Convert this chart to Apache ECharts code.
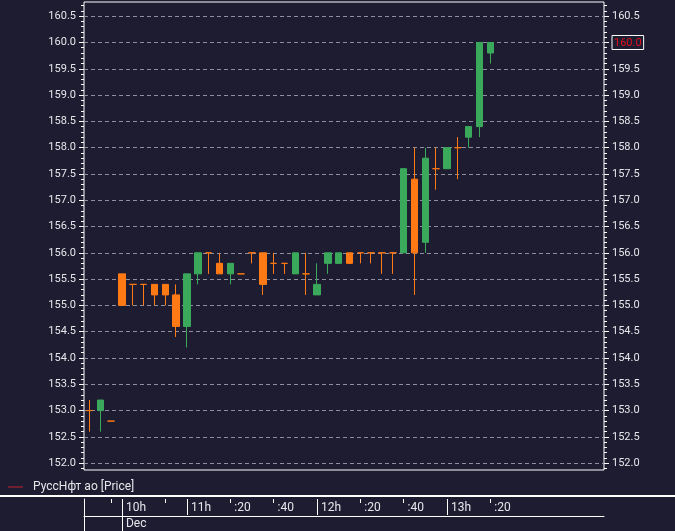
<!DOCTYPE html>
<html><head><meta charset="utf-8">
<script src="https://cdn.jsdelivr.net/npm/echarts@6/dist/echarts.min.js"></script>
<style>html,body{margin:0;padding:0;background:#1e1c31;}#c{width:675px;height:531px;}</style>
</head><body><div id="c"></div>
<script>
const seriesName = 'РуссНфт ао [Price]';
const categories = ['09:30','09:35','09:40','10:00','10:10','10:20','10:30','10:40','10:50',
  '11:00','11:05','11:10','11:15','11:20','11:25','11:30','11:35','11:40','11:45','11:50','11:55',
  '12:00','12:05','12:10','12:15','12:20','12:25','12:30','12:35','12:40','12:45','12:50','12:55',
  '13:00','13:05','13:10','13:15','13:20','13:25','13:30','13:35','13:40','13:45','13:50','13:55',
  '14:00','14:05','14:10'];
const openV  = [153.0,153.0,152.8,155.6,155.4,155.4,155.4,155.4,155.2,154.6,155.6,156.0,155.8,155.6,155.6,156.0,156.0,155.8,155.8,155.6,155.6,155.2,155.8,155.8,156.0,156.0,156.0,156.0,156.0,156.0,157.4,156.2,157.6,157.6,158.0,158.2,158.4,159.8];
const closeV = [153.0,153.2,152.8,155.0,155.4,155.4,155.2,155.2,154.6,155.6,156.0,156.0,155.6,155.8,155.6,156.0,155.4,155.8,155.8,156.0,155.6,155.4,156.0,156.0,155.8,156.0,156.0,156.0,156.0,157.6,156.0,157.8,157.6,158.0,158.0,158.4,160.0,160.0];
const lowV   = [152.6,152.6,152.8,155.0,155.0,155.0,155.0,155.0,154.4,154.2,155.4,155.6,155.6,155.4,155.6,155.8,155.2,155.6,155.6,155.6,155.2,155.2,155.6,155.8,155.8,155.8,155.8,155.6,155.6,156.0,155.2,156.0,157.2,157.6,157.4,158.0,158.2,159.6];
const highV  = [153.2,153.2,152.8,155.6,155.4,155.4,155.4,155.4,155.4,155.6,156.0,156.0,156.0,155.8,155.6,156.0,156.0,156.0,155.8,156.0,156.0,155.8,156.0,156.0,156.0,156.0,156.0,156.0,156.0,157.6,158.0,158.0,158.0,158.0,158.2,158.4,160.0,160.0];
const yTickValues = [152.0,152.5,153.0,153.5,154.0,154.5,155.0,155.5,156.0,156.5,157.0,157.5,158.0,158.5,159.0,159.5,160.0,160.5];
const timeTickIndex = [2,3,7,9,13,17,21,25,29,33,37];
const timeTickText  = ['','10h','',"11h",':20',':40','12h',':20',':40','13h',':20'];
const dateTickIndex = [3];
const dateTickText  = ['Dec'];

const FONT = 'Roboto';
const TXT = '#e6e6ea';
const UP = '#3aa95c', DOWN = '#ff7a15';
const yMin = 151.87, yMax = 160.77;
const minorTicks = [];
for (let k = 0; k <= 88; k++) minorTicks.push(+(151.9 + k * 0.1).toFixed(1));
const lastClose = closeV[closeV.length - 1];
const candleData = openV.map((o, i) => [o, closeV[i], lowV[i], highV[i]]);
const textAt = (idxArr, txtArr) => (i) => { const p = idxArr.indexOf(i); return p < 0 ? '' : txtArr[p]; };
const timeText = textAt(timeTickIndex, timeTickText);
const dateText = textAt(dateTickIndex, dateTickText);
const isHour = (i) => /h$/.test(timeText(i));
const isDate = (i) => dateText(i) !== '';

function yAxisMain(pos, withLabels, ticks, len, split) {
  return {
    type: 'value', gridIndex: 0, position: pos, min: yMin, max: yMax, scale: true,
    axisLine: { show: false },
    axisTick: { show: true, customValues: ticks, length: len, lineStyle: { color: '#ffffff' } },
    axisLabel: withLabels ? {
      show: true, customValues: yTickValues, margin: 8, color: TXT, fontSize: 11, fontFamily: FONT,
      formatter: (v) => (pos === 'right' && Math.abs(v - lastClose) < 1e-6) ? '{last|' + v.toFixed(1) + '}' : v.toFixed(1),
      rich: { last: { color: '#e3101c', fontSize: 11, fontFamily: FONT, borderColor: '#ffffff', borderWidth: 1, padding: [2, 2, 1, 2] } }
    } : { show: false },
    splitLine: split ? { show: true, lineStyle: { color: '#8f8fa0', type: [4, 3], width: 1 } } : { show: false }
  };
}
function tickAxis(grid, len, filter, lineShow) {
  return { type: 'category', gridIndex: grid, position: 'top', data: categories,
    axisLine: { show: lineShow, lineStyle: { color: '#ffffff' } },
    axisTick: { show: true, inside: true, alignWithLabel: true, length: len, interval: (i) => filter(i), lineStyle: { color: '#ffffff' } },
    axisLabel: { show: false }, splitLine: { show: false } };
}

const chart = echarts.init(document.getElementById('c'), null, { renderer: 'canvas' });
chart.setOption({
  backgroundColor: '#1e1c31',
  animation: false,
  graphic: [{ type: 'rect', silent: true, shape: { x: 0, y: 495, width: 675, height: 2 }, style: { fill: '#ffffff' } }],
  legend: {
    left: 3, top: 476, itemWidth: 15, itemHeight: 1, itemGap: 10,
    textStyle: { color: TXT, fontSize: 12, fontFamily: FONT, padding: [0, 0, 0, 5] },
    data: [{ name: seriesName, icon: 'rect', itemStyle: { color: '#c3232e', borderWidth: 0 } }]
  },
  grid: [
    { left: 84, right: 71, top: 2, height: 468, show: true, borderColor: '#ffffff', borderWidth: 1, backgroundColor: 'transparent' },
    { left: 84, right: 71, top: 499, height: 17 },
    { left: 84, right: 71, top: 516, height: 16 }
  ],
  xAxis: [
    { type: 'category', gridIndex: 0, data: categories, axisLine: { show: false }, axisTick: { show: false }, axisLabel: { show: false } },
    { type: 'category', gridIndex: 1, position: 'top', data: categories,
      axisLine: { show: true, lineStyle: { color: '#ffffff' } },
      axisTick: { show: false },
      axisLabel: { show: true, inside: true, interval: (i) => timeText(i) !== '', formatter: (v, i) => timeText(i),
        align: 'left', verticalAlign: 'middle', padding: [0, 0, 0, 4], margin: 9, color: TXT, fontSize: 12, fontFamily: FONT },
      splitLine: { show: false } },
    tickAxis(1, 16, (i) => isHour(i) && !isDate(i), false),
    tickAxis(1, 4, (i) => timeTickIndex.indexOf(i) >= 0 && !isHour(i), false),
    tickAxis(1, 33, (i) => isDate(i), false),
    { type: 'category', gridIndex: 2, position: 'top', data: categories,
      axisLine: { show: true, lineStyle: { color: '#ffffff' } },
      axisTick: { show: false },
      axisLabel: { show: true, inside: true, interval: (i) => isDate(i), formatter: (v, i) => dateText(i),
        align: 'left', verticalAlign: 'middle', padding: [0, 0, 0, 4], margin: 8, color: TXT, fontSize: 12, fontFamily: FONT },
      splitLine: { show: false } }
  ],
  yAxis: [
    yAxisMain('left', true, yTickValues, 5, true),
    yAxisMain('left', false, minorTicks, 3, false),
    yAxisMain('right', true, yTickValues, 5, false),
    yAxisMain('right', false, minorTicks, 3, false),
    { type: 'value', gridIndex: 1, position: 'left', axisLine: { show: true, lineStyle: { color: '#ffffff' } }, axisTick: { show: false }, axisLabel: { show: false }, splitLine: { show: false } },
    { type: 'value', gridIndex: 2, position: 'left', axisLine: { show: true, lineStyle: { color: '#ffffff' } }, axisTick: { show: false }, axisLabel: { show: false }, splitLine: { show: false } }
  ],
  series: [{
    name: seriesName, type: 'candlestick', xAxisIndex: 0, yAxisIndex: 0, barWidth: 7,
    itemStyle: { color: UP, color0: DOWN, borderColor: UP, borderColor0: DOWN, borderColorDoji: DOWN, borderWidth: 1 },
    data: candleData
  }]
});
</script></body></html>
